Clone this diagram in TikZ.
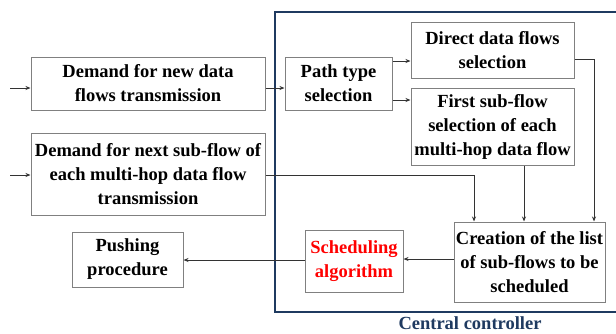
\documentclass[tikz,border=0pt]{standalone}
\usepackage{fontspec}
\setmainfont{Liberation Serif}
\usetikzlibrary{arrows.meta}
\definecolor{navy}{HTML}{1F3A60}
\definecolor{boxgray}{HTML}{808080}
\definecolor{linegray}{HTML}{333333}
\tikzset{
  box/.style={draw=boxgray, line width=1pt, align=center, inner sep=0pt,
    font=\fontsize{18.5}{24}\selectfont\bfseries},
  arr/.style={draw=linegray, line width=0.9pt, -{Stealth[length=5pt,width=4pt]}},
  frame/.style={draw=navy, line width=2.2pt},
}
\begin{document}
\begin{tikzpicture}[x=1pt,y=-1pt]
\useasboundingbox (0,0) rectangle (616,333);
\draw[frame] (275,12) rectangle (630,312);
\node[font=\fontsize{18.5}{22}\selectfont\bfseries, text=navy] (cc) at (470,323) {Central controller};

\node[box, minimum width=234pt, minimum height=53pt] (dnew) at (148,83.5) {Demand for new data\\flows transmission};
\node[box, minimum width=234pt, minimum height=82pt] (dnext) at (148,174) {Demand for next sub-flow of\\each multi-hop data flow\\transmission};
\node[box, minimum width=111pt, minimum height=55pt] (push) at (127.5,259.5) {Pushing\\procedure};
\node[box, minimum width=107pt, minimum height=53pt] (path) at (338.5,83.5) {Path type\\selection};
\node[box, minimum width=163pt, minimum height=56pt] (direct) at (492.5,50) {Direct data flows\\selection};
\node[box, minimum width=163pt, minimum height=77pt] (first) at (492.5,126.5) {First sub-flow\\selection of each\\multi-hop data flow};
\node[box, minimum width=151pt, minimum height=80pt] (create) at (529.5,262) {Creation of the list\\of sub-flows to be\\scheduled};
\node[box, minimum width=98pt, minimum height=62pt, text=red] (sched) at (354,261) {Scheduling\\algorithm};

\coordinate (in1) at (10,88);
\coordinate (in2) at (10,175);
\draw[arr] (in1) -- (in1 -| dnew.west);
\draw[arr] (in2) -- (in2 -| dnext.west);
\draw[arr] (dnew.east |- 0,88) -- (path.west |- 0,88);
\draw[arr] (path.east |- 0,61) -- (direct.west |- 0,61);
\draw[arr] (path.east |- 0,100) -- (first.west |- 0,100);
\draw[arr] (dnext.east |- 0,175) -| (create.north -| 474,0);
\draw[arr] (first.south -| 524,0) -- (create.north -| 524,0);
\draw[arr] (direct.east |- 0,59) -| (create.north -| 594,0);
\draw[arr] (create.west |- 0,259) -- (sched.east |- 0,259);
\draw[arr] (sched.west |- 0,260) -- (push.east |- 0,260);
\end{tikzpicture}
\end{document}
